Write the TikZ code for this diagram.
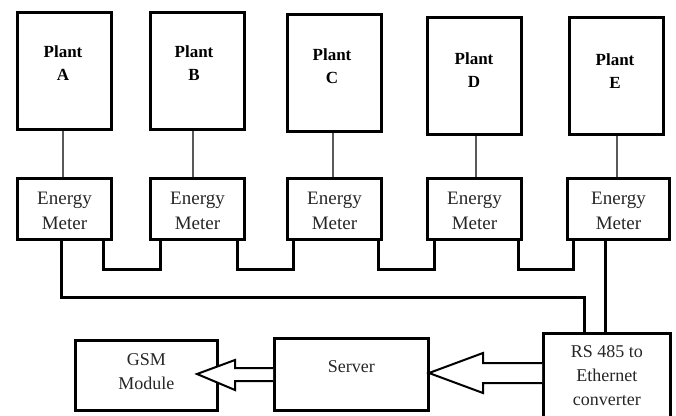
\documentclass[tikz,border=0pt]{standalone}
\usepackage{fontspec}
\setmainfont{Liberation Serif}
\begin{document}
\begin{tikzpicture}[x=1pt,y=-1pt,
  plantbox/.style={draw=black,line width=3pt,minimum width=94pt,minimum height=117pt,anchor=north west,inner sep=0pt},
  meterbox/.style={draw=black,line width=3pt,minimum width=94pt,minimum height=61pt,anchor=north west,inner sep=0pt},
  blockbox/.style={draw=black,line width=2.6pt,anchor=north west,inner sep=0pt},
  plantlbl/.style={font=\fontsize{17}{23}\selectfont\bfseries,align=center},
  lbl/.style={font=\fontsize{19}{25}\selectfont,align=center,text=black!85},
  thin/.style={draw=black!65,line width=1.2pt},
  bus/.style={draw=black,line width=3pt,line join=miter},
  fat/.style={draw=black,line width=2pt,fill=white,line join=miter}
]
\useasboundingbox (0,0) rectangle (676,415);
% plants
\node[plantbox] (pA) at (16,11) {};
\node[plantbox] (pB) at (149,11) {};
\node[plantbox] (pC) at (286,13) {};
\node[plantbox] (pD) at (426,16) {};
\node[plantbox] (pE) at (568,16) {};
\node[plantlbl] (tA) at (63,63) {Plant\\A};
\node[plantlbl] (tB) at (194,63) {Plant\\B};
\node[plantlbl] (tC) at (332,66) {Plant\\C};
\node[plantlbl] (tD) at (474,70) {Plant\\D};
\node[plantlbl] (tE) at (615,71) {Plant\\E};
% meters
\node[meterbox] (mA) at (16,177) {};
\node[meterbox] (mB) at (149,177) {};
\node[meterbox] (mC) at (286,177) {};
\node[meterbox] (mD) at (426,177) {};
\node[meterbox,minimum width=102pt] (mE) at (566,177) {};
\foreach \n in {A,B,C,D,E}{\node[lbl] at ([yshift=-1.5pt]m\n.center) {Energy\\Meter};}
% plant to meter
\draw[thin] (pA.south -| 63,0) -- (mA.north -| 63,0);
\draw[thin] (pB.south -| 193,0) -- (mB.north -| 193,0);
\draw[thin] (pC.south -| 333,0) -- (mC.north -| 333,0);
\draw[thin] (pD.south -| 476,0) -- (mD.north -| 476,0);
\draw[thin] (pE.south -| 617,0) -- (mE.north -| 617,0);
% bottom blocks
\node[blockbox,minimum width=142pt,minimum height=70pt] (gsm) at (74,339) {};
\node[lbl,font=\fontsize{18}{24}\selectfont] at ([yshift=4pt]gsm.center) {GSM\\Module};
\node[blockbox,minimum width=154pt,minimum height=72pt] (srv) at (273,337) {};
\node[lbl,font=\fontsize{18}{24}\selectfont] at ([yshift=8pt]srv.center) {Server};
\node[blockbox,minimum width=127pt,minimum height=86pt] (rs) at (542,332) {};
\node[lbl,font=\fontsize{18}{24}\selectfont] at ([yshift=1pt]rs.center) {RS 485 to\\Ethernet\\converter};
% bus between meters
\draw[bus] (mA.south -| 103,0) |- (160,269) -- (mB.south -| 160,0);
\draw[bus] (mB.south -| 237,0) |- (293,269) -- (mC.south -| 293,0);
\draw[bus] (mC.south -| 378,0) |- (434,269) -- (mD.south -| 434,0);
\draw[bus] (mD.south -| 518,0) |- (573,269) -- (mE.south -| 573,0);
\draw[bus] (mA.south -| 61,0) |- (584,297) -- (rs.north -| 584,0);
\draw[bus] (mE.south -| 605,0) -- (rs.north -| 605,0);
% hollow arrows
\draw[fat] (rs.west |- 0,363) -- (483,363) -- (483,353) -- (429,373) -- (483,393) -- (483,383) -- (rs.west |- 0,383);
\draw[fat] (srv.west |- 0,368) -- (235,368) -- (235,360) -- (197,374) -- (235,390) -- (235,381) -- (srv.west |- 0,381);
\end{tikzpicture}
\end{document}
